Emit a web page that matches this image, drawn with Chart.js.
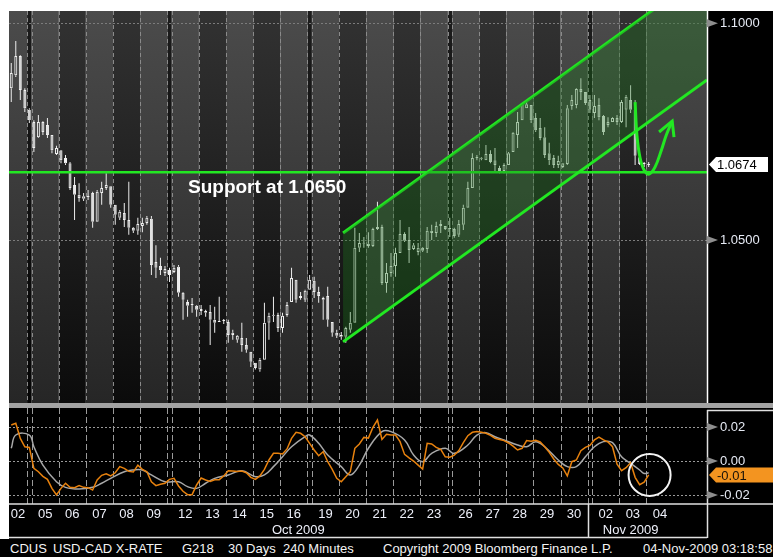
<!DOCTYPE html>
<html lang="en">
<head>
<meta charset="UTF-8">
<title>USD-CAD X-RATE 240 Minutes</title>
<script src="https://cdn.jsdelivr.net/npm/chart.js"></script>
<style>
  body { margin:0; background:#fff; width:773px; height:557px; position:relative; overflow:hidden;
         font-family:'Liberation Sans', Arial, sans-serif; }
  #main { position:absolute; left:0; top:0; }
  #sep { position:absolute; left:9px; top:403px; width:764px; height:5px; background:#a3a3a3; }
  #osc { position:absolute; left:0; top:408px; }
  #footer { position:absolute; left:0; top:539px; width:773px; height:18px; background:#000; color:#f4f4f4; font-size:13px; }
  #footer span { position:absolute; top:2px; white-space:pre; }
</style>
</head>
<body>
<canvas id="main" width="773" height="404"></canvas>
<div id="sep"></div>
<canvas id="osc" width="773" height="131"></canvas>
<div id="footer">
  <span style="left:10px">CDUS</span>
  <span style="left:53px">USD-CAD X-RATE</span>
  <span style="left:182px">G218</span>
  <span style="left:228px">30 Days</span>
  <span style="left:283px">240 Minutes</span>
  <span style="left:383px">Copyright 2009 Bloomberg Finance L.P.</span>
  <span style="left:643px">04-Nov-2009 03:18:58</span>
</div>
<script>
// trading days shown on the axis
const dayLabels = ['02','05','06','07','08','09','12','13','14','15','16','19','20','21','22','23','26','27','28','29','30','02','03','04'];
const dayMonths = ['Oct','Oct','Oct','Oct','Oct','Oct','Oct','Oct','Oct','Oct','Oct','Oct','Oct','Oct','Oct','Oct','Oct','Oct','Oct','Oct','Oct','Nov','Nov','Nov'];
const dayWeekdays = [5,1,2,3,4,5,1,2,3,4,5,1,2,3,4,5,1,2,3,4,5,1,2,3];
const monthLabels = ['Oct 2009', 'Nov 2009'];
const barsFirstDay = 4, barsPerDay = 6;

// 240 minute bars, USD-CAD
const open = [
  1.0850,1.0880,1.0924,1.0846,1.0800,1.0772,1.0737,1.0772,1.0765,1.0742,
  1.0698,1.0707,1.0689,1.0677,1.0627,1.0604,1.0595,1.0601,1.0608,1.0542,
  1.0608,1.0620,1.0624,1.0581,1.0551,1.0562,1.0546,1.0528,1.0521,1.0532,
  1.0539,1.0549,1.0449,1.0440,1.0424,1.0431,1.0426,1.0438,1.0378,1.0357,
  1.0350,1.0348,1.0341,1.0336,1.0334,1.0316,1.0313,1.0313,1.0311,1.0281,
  1.0270,1.0274,1.0258,1.0242,1.0217,1.0201,1.0224,1.0309,1.0325,1.0327,
  1.0297,1.0327,1.0357,1.0408,1.0366,1.0362,1.0385,1.0406,1.0380,1.0362,
  1.0371,1.0311,1.0286,1.0281,1.0277,1.0293,1.0309,1.0482,1.0493,1.0491,
  1.0486,1.0525,1.0530,1.0401,1.0424,1.0440,1.0470,1.0514,1.0500,1.0479,
  1.0472,1.0482,1.0479,1.0521,1.0516,1.0532,1.0532,1.0525,1.0525,1.0512,
  1.0535,1.0574,1.0620,1.0689,1.0689,1.0684,1.0698,1.0684,1.0666,1.0659,
  1.0673,1.0703,1.0742,1.0776,1.0804,1.0811,1.0781,1.0758,1.0737,1.0700,
  1.0689,1.0673,1.0668,1.0675,1.0809,1.0811,1.0848,1.0841,1.0823,1.0793,
  1.0811,1.0786,1.0765,1.0772,1.0781,1.0772,1.0800,1.0823,1.0800,1.0691,
  1.0675,1.0673];
const high = [
  1.0908,1.0959,1.0926,1.0850,1.0804,1.0776,1.0788,1.0774,1.0781,1.0742,
  1.0717,1.0707,1.0696,1.0680,1.0645,1.0631,1.0608,1.0615,1.0611,1.0615,
  1.0634,1.0654,1.0624,1.0581,1.0569,1.0585,1.0634,1.0530,1.0551,1.0551,
  1.0555,1.0555,1.0488,1.0459,1.0440,1.0436,1.0442,1.0442,1.0380,1.0362,
  1.0366,1.0350,1.0350,1.0339,1.0350,1.0346,1.0369,1.0318,1.0316,1.0293,
  1.0281,1.0309,1.0274,1.0242,1.0217,1.0228,1.0355,1.0332,1.0369,1.0332,
  1.0332,1.0357,1.0436,1.0408,1.0380,1.0385,1.0419,1.0415,1.0392,1.0369,
  1.0392,1.0311,1.0293,1.0288,1.0300,1.0334,1.0528,1.0516,1.0507,1.0518,
  1.0528,1.0588,1.0535,1.0447,1.0470,1.0482,1.0546,1.0518,1.0530,1.0493,
  1.0493,1.0484,1.0530,1.0535,1.0542,1.0546,1.0532,1.0551,1.0528,1.0546,
  1.0581,1.0634,1.0700,1.0696,1.0691,1.0719,1.0707,1.0712,1.0671,1.0677,
  1.0703,1.0749,1.0795,1.0816,1.0823,1.0811,1.0793,1.0781,1.0760,1.0724,
  1.0696,1.0694,1.0677,1.0811,1.0834,1.0850,1.0873,1.0841,1.0834,1.0834,
  1.0827,1.0788,1.0783,1.0783,1.0788,1.0823,1.0834,1.0857,1.0823,1.0694,
  1.0680,1.0680];
const low = [
  1.0818,1.0876,1.0823,1.0795,1.0770,1.0703,1.0735,1.0742,1.0735,1.0700,
  1.0696,1.0677,1.0673,1.0615,1.0546,1.0588,1.0590,1.0592,1.0528,1.0542,
  1.0581,1.0615,1.0574,1.0535,1.0546,1.0530,1.0512,1.0516,1.0512,1.0518,
  1.0535,1.0419,1.0412,1.0419,1.0417,1.0403,1.0424,1.0369,1.0316,1.0323,
  1.0332,1.0323,1.0327,1.0323,1.0258,1.0286,1.0311,1.0306,1.0263,1.0270,
  1.0263,1.0242,1.0240,1.0207,1.0201,1.0196,1.0224,1.0270,1.0311,1.0288,
  1.0286,1.0323,1.0357,1.0355,1.0362,1.0357,1.0385,1.0366,1.0355,1.0316,
  1.0300,1.0277,1.0274,1.0270,1.0263,1.0286,1.0309,1.0472,1.0482,1.0482,
  1.0484,1.0523,1.0396,1.0378,1.0415,1.0415,1.0470,1.0495,1.0447,1.0477,
  1.0465,1.0472,1.0470,1.0500,1.0507,1.0516,1.0523,1.0507,1.0505,1.0507,
  1.0523,1.0574,1.0620,1.0684,1.0684,1.0684,1.0677,1.0657,1.0654,1.0654,
  1.0673,1.0703,1.0712,1.0776,1.0804,1.0770,1.0749,1.0730,1.0689,1.0673,
  1.0666,1.0666,1.0666,1.0673,1.0800,1.0804,1.0823,1.0811,1.0793,1.0781,
  1.0776,1.0742,1.0760,1.0772,1.0765,1.0770,1.0760,1.0793,1.0673,1.0673,
  1.0668,1.0668];
const close = [
  1.0885,1.0924,1.0846,1.0804,1.0776,1.0712,1.0772,1.0749,1.0742,1.0707,
  1.0712,1.0684,1.0677,1.0620,1.0604,1.0597,1.0601,1.0599,1.0542,1.0611,
  1.0620,1.0627,1.0581,1.0558,1.0565,1.0546,1.0528,1.0521,1.0537,1.0539,
  1.0551,1.0442,1.0436,1.0431,1.0433,1.0419,1.0436,1.0378,1.0362,1.0348,
  1.0351,1.0339,1.0336,1.0332,1.0316,1.0309,1.0311,1.0314,1.0281,1.0286,
  1.0279,1.0258,1.0247,1.0219,1.0205,1.0224,1.0309,1.0325,1.0327,1.0297,
  1.0325,1.0350,1.0412,1.0362,1.0371,1.0383,1.0408,1.0380,1.0371,1.0366,
  1.0316,1.0286,1.0279,1.0277,1.0297,1.0309,1.0482,1.0493,1.0491,1.0486,
  1.0525,1.0530,1.0401,1.0424,1.0440,1.0470,1.0514,1.0498,1.0477,1.0488,
  1.0482,1.0475,1.0521,1.0516,1.0532,1.0537,1.0525,1.0528,1.0509,1.0537,
  1.0574,1.0620,1.0689,1.0690,1.0687,1.0698,1.0680,1.0673,1.0659,1.0673,
  1.0700,1.0747,1.0772,1.0813,1.0813,1.0776,1.0753,1.0735,1.0696,1.0684,
  1.0673,1.0682,1.0677,1.0804,1.0823,1.0848,1.0841,1.0816,1.0800,1.0809,
  1.0783,1.0749,1.0772,1.0781,1.0772,1.0818,1.0830,1.0800,1.0694,1.0675,
  1.0676,1.0674];

// lower study: orange line (per bar) and grey signal line
const osc = [
  0.0212,0.0222,0.0133,0.0084,0.0080,-0.0043,-0.0063,-0.0090,-0.0108,-0.0161,
  -0.0200,-0.0161,-0.0131,-0.0155,-0.0157,-0.0145,-0.0155,-0.0157,-0.0171,-0.0112,
  -0.0084,-0.0075,-0.0088,-0.0069,-0.0033,-0.0043,-0.0061,-0.0065,-0.0024,-0.0049,
  -0.0063,-0.0122,-0.0145,-0.0137,-0.0131,-0.0108,-0.0102,-0.0147,-0.0178,-0.0198,
  -0.0198,-0.0141,-0.0100,-0.0112,-0.0120,-0.0110,-0.0110,-0.0088,-0.0057,-0.0059,
  -0.0061,-0.0059,-0.0069,-0.0096,-0.0108,-0.0088,-0.0049,0.0006,0.0045,0.0045,
  0.0041,0.0071,0.0133,0.0169,0.0163,0.0143,0.0104,0.0065,0.0031,0.0055,
  -0.0004,-0.0049,-0.0102,-0.0122,-0.0092,-0.0063,0.0075,0.0100,0.0139,0.0135,
  0.0198,0.0241,0.0127,0.0157,0.0153,0.0153,0.0114,0.0039,0.0018,0.0000,
  -0.0024,-0.0047,0.0104,0.0100,0.0080,0.0069,0.0025,0.0022,0.0035,0.0061,
  0.0108,0.0149,0.0169,0.0173,0.0169,0.0163,0.0151,0.0133,0.0127,0.0120,
  0.0106,0.0088,0.0065,0.0075,0.0120,0.0116,0.0122,0.0112,0.0084,0.0051,
  0.0012,-0.0020,-0.0041,-0.0088,-0.0004,0.0006,0.0061,0.0080,0.0092,0.0124,
  0.0141,0.0124,0.0112,0.0084,-0.0018,-0.0057,-0.0039,-0.0010,-0.0096,-0.0139,
  -0.0124,-0.0082];
const sigX = [0,1,4,5,7,10,12,15,18,20,22,25,27,29,31,34,37,39,41,43,45,48,51,54,56,58,60,62,65,66,
  68,70,73,75,77,79,82,84,87,89,91,93,96,98,101,103,105,107,109,112,114,116,118,121,123,125,127,129,131,133,
  135,137,139,140,141];
const sigY = [0.0075,0.0153,0.0153,0.0084,-0.0024,-0.0122,-0.0155,-0.0165,-0.0155,-0.0131,
  -0.0102,-0.0063,-0.0053,-0.0053,-0.0082,-0.0122,-0.0122,-0.0151,-0.0161,-0.0131,
  -0.0102,-0.0082,-0.0057,-0.0092,-0.0082,-0.0033,0.0025,0.0084,0.0143,0.0153,
  0.0104,0.0035,-0.0033,-0.0082,-0.0024,0.0075,0.0173,0.0173,0.0124,0.0035,
  -0.0004,0.0045,0.0075,0.0045,0.0094,0.0153,0.0167,0.0143,0.0124,0.0094,
  0.0084,0.0114,0.0084,0.0006,-0.0033,-0.0033,0.0025,0.0084,0.0114,0.0108,
  0.0025,-0.0014,-0.0053,-0.0073,-0.0069];

// drawn annotations (bar index / price)
const support = 1.0656;
const supportText = 'Support at 1.0650';
const supportTextAt = 39.1;
const channelX = [73.4, 153.9];
const channelUpper = [1.0516, 1.1120];
const channelLower = [1.0265, 1.0869];
const arrowX = [138.0, 138.4, 139.1, 140.0, 141.1, 142.4, 143.8, 144.9, 146.2];
const arrowY = [1.0818, 1.0742, 1.0689, 1.0661, 1.0652, 1.0668, 1.0707, 1.0742, 1.0774];
const headX = [143.3, 146.2, 146.6];
const headY = [1.0749, 1.0774, 1.0737];
const circleAt = {x: 141.2, y: -0.0082};

const priceTicks = [1.05, 1.10];
const oscTicks = [-0.02, 0, 0.02];
const xMin = -0.5, xMax = 153.9;

// day layout: one empty slot for each weekend
const days = [], gaps = [];
let pos = xMin;
dayLabels.forEach((lab, i) => {
  if (i > 0 && dayWeekdays[i] === 1) { gaps.push({from: pos, to: pos + 1}); pos += 1; }
  const n = i === 0 ? barsFirstDay : barsPerDay;
  days.push({label: lab, month: dayMonths[i], wd: dayWeekdays[i], from: pos, to: pos + n});
  pos += n;
});
const monthSpans = [];
['Oct', 'Nov'].forEach((m, i) => {
  const ds = days.filter(d => d.month === m);
  const from = i === 0 ? ds[0].from : monthSpans[i - 1].to;
  monthSpans.push({from, to: ds[ds.length - 1].to});
});
const boundaries = days.slice(1).map(d => d.from).concat(gaps.map(g => g.from));

const green = '#22e822';
const font = "'Liberation Sans', Arial, sans-serif";
Chart.defaults.font.family = font;

function vLines(ctx, a, x, color, dash) {
  ctx.save();
  ctx.strokeStyle = color; ctx.lineWidth = 1; ctx.setLineDash(dash);
  boundaries.forEach(v => {
    const px = Math.round(x.getPixelForValue(v)) + 0.5;
    ctx.beginPath(); ctx.moveTo(px, a.top); ctx.lineTo(px, a.bottom); ctx.stroke();
  });
  ctx.restore();
}
function hLines(ctx, a, y, vals, color) {
  ctx.save();
  ctx.strokeStyle = color; ctx.lineWidth = 1; ctx.setLineDash([2, 2]);
  vals.forEach(v => {
    const py = Math.round(y.getPixelForValue(v)) + 0.5;
    ctx.beginPath(); ctx.moveTo(a.left, py); ctx.lineTo(a.right, py); ctx.stroke();
  });
  ctx.restore();
}
function markers(ctx, a, y, vals) {
  ctx.fillStyle = '#8e8e8e';
  vals.forEach(v => {
    const py = y.getPixelForValue(v);
    ctx.beginPath(); ctx.moveTo(a.right, py - 4); ctx.lineTo(a.right + 11, py); ctx.lineTo(a.right, py + 4); ctx.fill();
  });
}
function tag(ctx, a, py, w, bg, fg, text) {
  ctx.fillStyle = bg;
  ctx.beginPath();
  ctx.moveTo(a.right + 2, py); ctx.lineTo(a.right + 9, py - 7.5); ctx.lineTo(a.right + w, py - 7.5);
  ctx.lineTo(a.right + w, py + 7.5); ctx.lineTo(a.right + 9, py + 7.5); ctx.closePath(); ctx.fill();
  ctx.fillStyle = fg; ctx.font = '13px ' + font; ctx.textBaseline = 'middle'; ctx.textAlign = 'left';
  ctx.fillText(text, a.right + 10, py + 1);
}

const mainDeco = {
  id: 'mainDeco',
  beforeDraw(chart) {
    const {ctx, chartArea: a, scales: {x}} = chart;
    ctx.save();
    ctx.fillStyle = '#000';
    ctx.fillRect(a.right, a.top, chart.width - a.right, chart.height - a.top);
    const grad = (c1, c2) => {
      const g = ctx.createLinearGradient(0, a.top, 0, a.bottom);
      g.addColorStop(0, c1); g.addColorStop(1, c2); return g;
    };
    const light = grad('#4b4b4b', '#262626'), dark = grad('#323232', '#0b0b0b'), wk = grad('#1c1c1c', '#040404');
    days.forEach((d, i) => {
      const x0 = x.getPixelForValue(d.from);
      const x1 = i === days.length - 1 ? a.right : x.getPixelForValue(d.to);
      ctx.fillStyle = d.wd % 2 ? light : dark;
      ctx.fillRect(x0, a.top, x1 - x0, a.bottom - a.top);
    });
    gaps.forEach(g => {
      const x0 = x.getPixelForValue(g.from), x1 = x.getPixelForValue(g.to);
      ctx.fillStyle = wk; ctx.fillRect(x0, a.top, x1 - x0, a.bottom - a.top);
    });
    ctx.restore();
  },
  beforeDatasetsDraw(chart) {
    const {ctx, chartArea: a, scales: {x, y}} = chart;
    vLines(ctx, a, x, '#8a8a8a', [4, 3]);
    hLines(ctx, a, y, priceTicks, '#7c7c7c');
  },
  afterDatasetsDraw(chart) {
    const {ctx, chartArea: a, scales: {x, y}} = chart;
    ctx.save();
    ctx.font = 'bold 19px ' + font;
    ctx.fillStyle = '#ffffff'; ctx.textBaseline = 'alphabetic';
    ctx.fillText(supportText, x.getPixelForValue(supportTextAt), y.getPixelForValue(support) + 21);
    ctx.strokeStyle = '#ffffff'; ctx.lineWidth = 1.5;
    ctx.beginPath(); ctx.moveTo(a.right + 0.5, a.top); ctx.lineTo(a.right + 0.5, a.bottom); ctx.stroke();
    markers(ctx, a, y, priceTicks);
    tag(ctx, a, y.getPixelForValue(close[close.length - 1]), 61, '#ffffff', '#000', close[close.length - 1].toFixed(4));
    ctx.restore();
  }
};

const wickUp = open.map((o, i) => ({x: i, y: [Math.max(o, close[i]), high[i]]}));
const wickDn = open.map((o, i) => ({x: i, y: [low[i], Math.min(o, close[i])]}));
const bodies = open.map((o, i) => ({x: i, y: [o, close[i]]}));
const bodyFill = open.map((o, i) => close[i] < o ? '#f2f2f2' : 'rgba(0,0,0,0)');
const bar = {type: 'bar', grouped: false, inflateAmount: 0};

new Chart(document.getElementById('main'), {
  type: 'bar',
  data: {
    datasets: [
      {...bar, data: wickUp, backgroundColor: '#ececec', barThickness: 1, order: 10},
      {...bar, data: wickDn, backgroundColor: '#ececec', barThickness: 1, order: 10},
      {...bar, data: bodies, backgroundColor: bodyFill, borderColor: '#f2f2f2', borderWidth: 1,
        borderSkipped: false, barThickness: 3, minBarLength: 1, order: 9},
      {type: 'line', data: [{x: xMin, y: support}, {x: xMax, y: support}], borderColor: green,
        borderWidth: 2.5, pointRadius: 0, order: 5},
      {type: 'line', data: channelX.map((v, i) => ({x: v, y: channelUpper[i]})), borderColor: green,
        borderWidth: 3, pointRadius: 0, order: 4},
      {type: 'line', data: channelX.map((v, i) => ({x: v, y: channelLower[i]})), borderColor: green,
        borderWidth: 3, pointRadius: 0, fill: '-1', backgroundColor: 'rgba(30,120,30,0.34)', order: 3},
      {type: 'line', data: arrowX.map((v, i) => ({x: v, y: arrowY[i]})), borderColor: green,
        borderWidth: 3, pointRadius: 0, tension: 0.4, order: 1},
      {type: 'line', data: headX.map((v, i) => ({x: v, y: headY[i]})), borderColor: green,
        borderWidth: 3, pointRadius: 0, order: 0}
    ]
  },
  options: {
    responsive: false, animation: false, events: [],
    layout: {autoPadding: false, padding: {left: 9, top: 11, bottom: 1, right: 0}},
    plugins: {legend: {display: false}, tooltip: {enabled: false}},
    scales: {
      x: {type: 'linear', min: xMin, max: xMax, offset: false, display: false},
      y: {
        position: 'right', min: 1.0124, max: 1.1028,
        afterBuildTicks: s => { s.ticks = priceTicks.map(v => ({value: v})); },
        afterFit: s => { s.width = 66; s.paddingTop = 0; s.paddingBottom = 0; },
        ticks: {color: '#e6eaf4', font: {size: 13}, padding: 13, callback: v => v.toFixed(4)},
        grid: {display: false, drawTicks: false}, border: {display: false}
      }
    }
  },
  plugins: [mainDeco]
});

const oscDeco = {
  id: 'oscDeco',
  beforeDraw(chart) {
    const {ctx, chartArea: a} = chart;
    ctx.save(); ctx.fillStyle = '#000'; ctx.fillRect(a.left, 0, chart.width - a.left, chart.height); ctx.restore();
  },
  beforeDatasetsDraw(chart) {
    const {ctx, chartArea: a, scales: {x, y}} = chart;
    vLines(ctx, a, x, '#9a9a9a', [6, 3]);
    hLines(ctx, a, y, oscTicks, '#9a9a9a');
  },
  afterDraw(chart) {
    const {ctx, chartArea: a, scales: {x, y}} = chart;
    const H = chart.height;
    ctx.save();
    ctx.strokeStyle = '#e0e0e0'; ctx.lineWidth = 1.5;
    ctx.beginPath();
    ctx.moveTo(a.right + 0.5, 2); ctx.lineTo(a.right + 0.5, H - 1);
    ctx.moveTo(a.right, 2.5); ctx.lineTo(chart.width, 2.5);
    ctx.moveTo(a.left, a.bottom); ctx.lineTo(chart.width, a.bottom);
    ctx.moveTo(a.left, H - 1.5); ctx.lineTo(a.right, H - 1.5);
    const dv = Math.round(x.getPixelForValue(monthSpans[0].to)) + 0.5;
    ctx.moveTo(dv, a.bottom); ctx.lineTo(dv, H - 1);
    ctx.stroke();
    markers(ctx, a, y, oscTicks);
    const last = osc[osc.length - 1];
    tag(ctx, a, y.getPixelForValue(last), 66, '#f39420', '#1a1208', last.toFixed(2));
    ctx.restore();
  }
};

new Chart(document.getElementById('osc'), {
  type: 'line',
  data: {
    datasets: [
      {data: [circleAt], showLine: false, pointRadius: 21, pointBorderWidth: 2,
        pointBorderColor: '#f4f4f4', pointBackgroundColor: 'rgba(0,0,0,0)', order: 0},
      {data: osc.map((v, i) => ({x: i, y: v})), borderColor: '#e8820e', borderWidth: 1.5, pointRadius: 0, order: 1},
      {data: sigX.map((v, i) => ({x: v, y: sigY[i]})), borderColor: '#a8a8a8', borderWidth: 1.5,
        pointRadius: 0, tension: 0.4, order: 2}
    ]
  },
  options: {
    responsive: false, animation: false, events: [],
    layout: {autoPadding: false, padding: {left: 9, top: 0, bottom: 1, right: 0}},
    plugins: {legend: {display: false}, tooltip: {enabled: false}},
    scales: {
      x: {
        type: 'linear', min: xMin, max: xMax, position: 'bottom', weight: 0,
        afterBuildTicks: s => { s.ticks = days.map(d => ({value: (d.from + d.to) / 2})); },
        afterFit: s => { s.height = 18; s.paddingLeft = 0; s.paddingRight = 0; },
        ticks: {autoSkip: false, maxRotation: 0, color: '#eef0fa', font: {size: 13}, padding: 3,
          callback: (v, i) => dayLabels[i]},
        grid: {display: false, drawTicks: false}, border: {display: false}
      },
      x2: {
        type: 'linear', min: xMin, max: xMax, position: 'bottom', weight: 1,
        afterBuildTicks: s => { s.ticks = monthSpans.map(m => ({value: (m.from + m.to) / 2})); },
        afterFit: s => { s.height = 16; s.paddingLeft = 0; s.paddingRight = 0; },
        ticks: {autoSkip: false, maxRotation: 0, color: '#eef0fa', font: {size: 13}, padding: 1,
          callback: (v, i) => monthLabels[i]},
        grid: {display: false, drawTicks: false}, border: {display: false}
      },
      y: {
        position: 'right', min: -0.0253, max: 0.0312,
        afterBuildTicks: s => { s.ticks = oscTicks.map(v => ({value: v})); },
        afterFit: s => { s.width = 66; s.paddingTop = 0; s.paddingBottom = 0; },
        ticks: {color: '#e6eaf4', font: {size: 13}, padding: 13, callback: v => v.toFixed(2)},
        grid: {display: false, drawTicks: false}, border: {display: false}
      }
    }
  },
  plugins: [oscDeco]
});
</script>
</body>
</html>
